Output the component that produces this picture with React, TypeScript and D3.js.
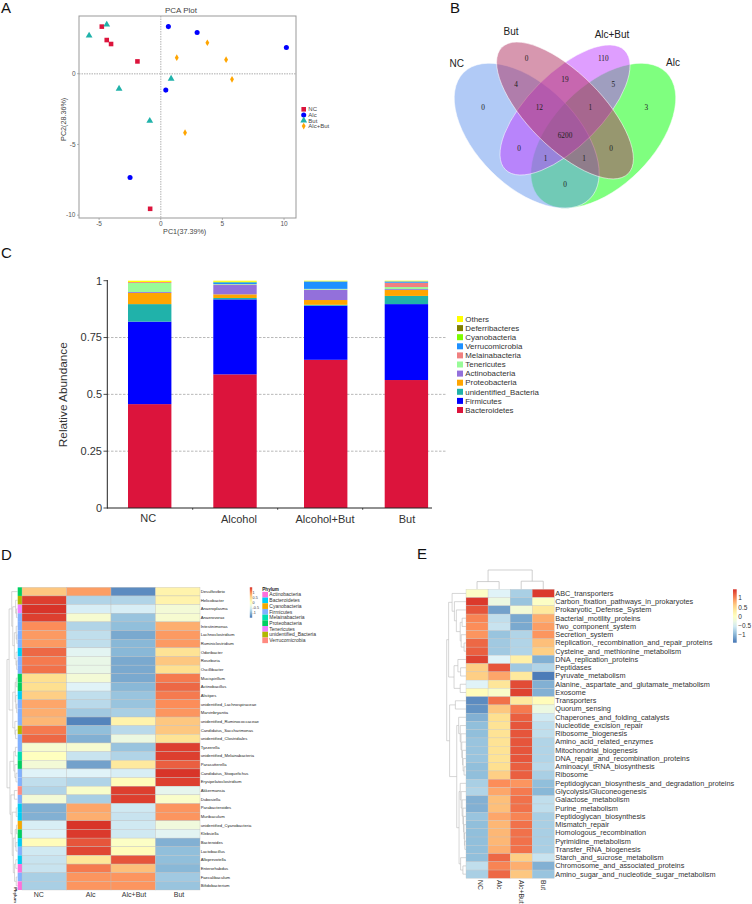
import React from "react";
import * as d3 from "d3";

const FONT = "'Liberation Sans', Arial, sans-serif";

// ---------- Panel A
const pcaGroups = ["NC", "Alc", "But", "Alc+But"];
const pcaNC = [[-4.78, 3.33], [-4.38, 2.38], [-4.03, 2.1], [-1.89, 0.87], [-0.86, -9.55]];
const pcaAlc = [[0.62, 3.33], [2.95, 2.92], [10.19, 1.86], [0.41, -1.16], [-2.49, -7.33]];
const pcaBut = [[-4.38, 3.47], [-5.81, 2.69], [0.84, -0.35], [-3.38, -1.06], [-0.89, -3.33]];
const pcaAlcBut = [[3.78, 2.19], [5.3, 0.99], [1.3, 1.13], [5.78, -0.4], [1.97, -4.17]];
const pcaSeries = [pcaNC, pcaAlc, pcaBut, pcaAlcBut];
const pcaColors = ["#dc143c", "#0000ff", "#20b2aa", "#ffa500"];
const pcaXTicks = [-5, 0, 5, 10];
const pcaYTicks = [0, -5, -10];

// ---------- Panel B
const vennSets = ["NC", "But", "Alc+But", "Alc"];
const vennCounts = [0, 0, 110, 3, 4, 19, 5, 12, 1, 6200, 0, 0, 1, 1, 0];

// ---------- Panel C
const barGroups = ["NC", "Alcohol", "Alcohol+But", "But"];
const phyla = ["Bacteroidetes", "Firmicutes", "unidentified_Bacteria", "Proteobacteria", "Actinobacteria", "Tenericutes", "Melainabacteria", "Verrucomicrobia", "Cyanobacteria", "Deferribacteres", "Others"];
const abundNC = [0.457, 0.363, 0.077, 0.049, 0.004, 0.04, 0.004, 0, 0, 0, 0.006];
const abundAlc = [0.588, 0.33, 0.006, 0.016, 0.041, 0.003, 0.001, 0.008, 0.002, 0, 0.005];
const abundAlcBut = [0.652, 0.238, 0.004, 0.021, 0.045, 0.003, 0.001, 0.033, 0, 0, 0.003];
const abundBut = [0.563, 0.334, 0.036, 0.026, 0.004, 0.009, 0.019, 0.006, 0, 0, 0.003];
const abundance = [abundNC, abundAlc, abundAlcBut, abundBut];
const phylaColors = ["#dc143c", "#0000ff", "#20b2aa", "#ffa500", "#9370db", "#98fb98", "#f08080", "#1e90ff", "#7cfc00", "#808000", "#ffff00"];
const barTicks = [0, 0.25, 0.5, 0.75, 1];

// ---------- Panel D
const genera = ["Desulfovibrio", "Helicobacter", "Anaeroplasma", "Anaerovorax", "Intestinimonas", "Lachnoclostridium", "Ruminiclostridium", "Odoribacter", "Roseburia", "Oscillibacter", "Mucispirillum", "Actinobacillus", "Alistipes", "unidentified_Lachnospiraceae", "Marvinbryantia", "unidentified_Ruminococcaceae", "Candidatus_Saccharimonas", "unidentified_Clostridiales", "Tyzzerella", "unidentified_Melainabacteria", "Parasutterella", "Candidatus_Stoquefichus", "Erysipelatoclostridium", "Akkermansia", "Dubosiella", "Parabacteroides", "Muribaculum", "unidentified_Cyanobacteria", "Klebsiella", "Bacteroides", "Lactobacillus", "Alloprevotella", "Enterorhabdus", "Faecalibaculum", "Bifidobacterium"];
const heatD = [
  [0.65, 0.9, -1.35, 0.2], [1.42, -0.8, -0.8, 0.2], [1.48, -0.55, -0.55, -0.2], [1.42, -0.15, -0.95, -0.15],
  [1.0, -0.8, -1.0, 0.8], [0.92, -0.7, -1.15, 0.92], [0.92, -0.7, -1.05, 0.92], [1.2, -0.45, -1.05, 0.45],
  [1.1, -0.35, -1.15, 0.65], [1.15, -0.35, -1.15, 0.5], [0.5, -0.2, -1.15, 1.1], [0.5, -0.5, -1.05, 1.2],
  [0.6, -0.7, -0.95, 1.1], [0.85, -0.75, -0.95, 1.0], [0.8, -0.9, -0.85, 0.95], [0.75, -1.4, 0.2, 0.65],
  [1.1, -1, -0.75, 0.65], [1.2, -1.1, -0.3, 0.45], [-0.15, -0.15, -0.95, 1.42], [0, -0.65, -0.8, 1.42],
  [-0.2, -1.2, 0.35, 1.25], [-0.5, -0.5, -0.55, 1.48], [-0.7, -0.8, 0.05, 1.42], [-0.8, -0.1, 1.42, -0.4],
  [-0.2, -0.85, 1.42, -0.1], [-1.1, 0.85, -0.6, 0.95], [-1.1, 0.8, -0.65, 0.95], [-0.55, 1.48, -0.6, -0.25],
  [-0.5, 1.45, -0.6, -0.45], [0.05, 1.3, -0.05, -1.1], [-0.6, 1.38, 0.05, -1], [-0.65, 0.4, 1.3, -1.0],
  [-0.65, 1.1, 0.7, -1.05], [-0.85, 0.95, 0.95, -0.9], [-0.85, 0.95, 0.95, -0.95],
];
const heatDCols = ["NC", "Alc", "Alc+But", "But"];
const annotNames = ["Actinobacteria", "Bacteroidetes", "Cyanobacteria", "Firmicutes", "Melainabacteria", "Proteobacteria", "Tenericutes", "unidentified_Bacteria", "Verrucomicrobia"];
const annotColors = ["#ff6fdc", "#00cdf5", "#f5a800", "#80b1ff", "#00dfb0", "#00d060", "#f080ff", "#b0b800", "#ff8a80"];
// index into annotNames per genus
const annotRows = [5, 7, 6, 3, 3, 3, 3, 1, 3, 3, 5, 5, 1, 3, 3, 3, 7, 3, 3, 4, 5, 3, 3, 8, 3, 1, 1, 2, 5, 1, 3, 1, 0, 3, 0];
type Tree = number | [number, Tree, Tree];
const treeD: Tree = [1,
  [0.8,
    [0.55, 0, [0.45,
      [0.18, 1, [0.1, 2, 3]],
      [0.3, [0.12, 4, [0.06, 5, 6]], [0.14, 7, [0.08, 8, 9]]]]],
    [0.45,
      [0.22, [0.12, 10, 11], [0.16, 12, [0.08, 13, 14]]],
      [0.25, 15, [0.18, 16, 17]]]],
  [0.72,
    [0.35, [0.2, 18, 19], [0.25, 20, [0.14, 21, 22]]],
    [0.62,
      [0.3, 23, 24],
      [0.5,
        [0.12, 25, 26],
        [0.4,
          [0.22, [0.1, 27, 28], [0.14, 29, 30]],
          [0.28, [0.16, 31, 32], [0.12, 33, 34]]]]]]];

// ---------- Panel E
const pathways = ["ABC_transporters", "Carbon_fixation_pathways_in_prokaryotes", "Prokaryotic_Defense_System", "Bacterial_motility_proteins", "Two_component_system", "Secretion_system", "Replication,_recombination_and_repair_proteins", "Cysteine_and_methionine_metabolism", "DNA_replication_proteins", "Peptidases", "Pyruvate_metabolism", "Alanine,_aspartate_and_glutamate_metabolism", "Exosome", "Transporters", "Quorum_sensing", "Chaperones_and_folding_catalysts", "Nucleotide_excision_repair", "Ribosome_biogenesis", "Amino_acid_related_enzymes", "Mitochondrial_biogenesis", "DNA_repair_and_recombination_proteins", "Aminoacyl_tRNA_biosynthesis", "Ribosome", "Peptidoglycan_biosynthesis_and_degradation_proteins", "Glycolysis/Gluconeogenesis", "Galactose_metabolism", "Purine_metabolism", "Peptidoglycan_biosynthesis", "Mismatch_repair", "Homologous_recombination", "Pyrimidine_metabolism", "Transfer_RNA_biogenesis", "Starch_and_sucrose_metabolism", "Chromosome_and_associated_proteins", "Amino_sugar_and_nucleotide_sugar_metabolism"];
const heatE = [
  [-0.05, -0.5, -0.85, 1.45], [1.45, -0.3, -0.95, -0.05], [1.3, -1.2, -0.2, 0.35], [1.05, -0.7, -1.15, 0.8],
  [1.0, -0.65, -1.15, 0.9], [0.95, -0.95, -0.8, 0.95], [1.2, -0.9, -0.8, 0.7], [1.25, -0.9, -0.8, 0.6],
  [1.4, -0.5, 0.25, -1.1], [0.6, 1.3, -0.9, -0.8], [0.6, 0.85, 0.35, -1.45], [-0.5, 0.4, 1.35, -1.1],
  [0.05, -0.1, 1.4, -1.1], [-1.35, 1.15, 0.35, 0.05], [-1.3, 0.65, 1.1, -0.3], [-1.1, 0.5, 1.25, -0.6],
  [-1, 0.45, 1.3, -0.7], [-1, 0.45, 1.3, -0.7], [-0.95, 0.45, 1.3, -0.8], [-0.95, 0.45, 1.3, -0.8],
  [-0.95, 0.45, 1.3, -0.8], [-1, 0.5, 1.25, -0.75], [-1, 0.6, 1.25, -0.85], [-0.85, 1, 0.95, -1],
  [-0.8, 0.85, 1.1, -1.05], [-1.1, 0.7, 1.15, -0.7], [-1.1, 0.7, 1.15, -0.7], [-0.95, 0.85, 1.05, -0.85],
  [-1, 0.75, 1.15, -0.85], [-1, 0.75, 1.15, -0.85], [-1, 0.75, 1.15, -0.85], [-1, 0.8, 1.15, -0.85],
  [-1, 1.2, 0.6, -0.65], [-0.7, 1.05, 0.8, -1.1], [-0.85, 1.2, 0.65, -0.95],
];
const heatECols = ["NC", "Alc", "Alc+But", "But"];
const treeE: Tree = [1,
  [0.9,
    [0.72, 0, [0.6, 1, [0.5, 2, [0.3, [0.2, 3, 4], [0.25, 5, [0.1, 6, 7]]]]]],
    [0.62, [0.42, 8, [0.28, 9, 10]], [0.3, 11, 12]]],
  [0.85,
    [0.55, 13, 14],
    [0.48,
      [0.38, 15, [0.3, 16, [0.26, 17, [0.22, 18, [0.18, 19, [0.15, 20, [0.1, 21, 22]]]]]]],
      [0.36,
        [0.3, 23, [0.25, 24, [0.2, 25, [0.16, 26, [0.13, 27, [0.1, 28, [0.08, 29, [0.06, 30, 31]]]]]]]],
        [0.28, 32, [0.16, 33, 34]]]]]];
const treeETop: Tree = [1, [0.4, 0, 1], [0.42, 2, 3]];

// ---------- helpers
const heatColor = d3.scaleLinear<string>()
  .domain([-1.5, -1, -0.5, 0, 0.5, 1, 1.5])
  .range(["#4575b4", "#91bfdb", "#e0f3f8", "#ffffbf", "#fee090", "#fc8d59", "#d73027"]);

function dendroPath(tree: Tree, pos: (leaf: number) => number, h: (v: number) => number, horizontal: boolean) {
  let d = "";
  const seg = (a1: number, b1: number, a2: number, b2: number) => {
    d += horizontal ? `M${b1},${a1}L${b2},${a2}` : `M${a1},${b1}L${a2},${b2}`;
  };
  const walk = (t: Tree): { p: number; v: number } => {
    if (typeof t === "number") return { p: pos(t), v: 0 };
    const [v, l, r] = t;
    const a = walk(l);
    const b = walk(r);
    seg(a.p, h(v), b.p, h(v));
    seg(a.p, h(v), a.p, h(a.v));
    seg(b.p, h(v), b.p, h(b.v));
    return { p: (a.p + b.p) / 2, v };
  };
  walk(tree);
  return d;
}

function ColorBar({ id, x, y, w, h }: { id: string; x: number; y: number; w: number; h: number }) {
  const stops = d3.range(0, 1.0001, 0.1);
  return (
    <g>
      <defs>
        <linearGradient id={id} x1="0" x2="0" y1="0" y2="1">
          {stops.map((s) => <stop key={s} offset={s} stopColor={heatColor(1.5 - 3 * s)} />)}
        </linearGradient>
      </defs>
      <rect x={x} y={y} width={w} height={h} fill={`url(#${id})`} />
    </g>
  );
}

function PanelA() {
  const x = d3.scaleLinear().domain([-6.63, 10.97]).range([79, 296]);
  const y = d3.scaleLinear().domain([4.08, -10.2]).range([16, 218]);
  const syms = [d3.symbolSquare, d3.symbolCircle, d3.symbolTriangle, d3.symbolDiamond];
  const sizes = [21, 20, 20, 13];
  const sym = (i: number) => d3.symbol().type(syms[i]).size(sizes[i])() as string;
  const legendY = d3.scaleLinear().domain([0, 1]).range([109.3, 114.9]);
  return (
    <g fontFamily={FONT}>
      <text x={181} y={12.5} textAnchor="middle" fontSize={8} fill="#444">PCA Plot</text>
      <line x1={x(0)} x2={x(0)} y1={16} y2={218} stroke="#c8c8c8" strokeWidth={1.4} strokeDasharray="1.5 1" />
      <line x1={79} x2={296} y1={y(0)} y2={y(0)} stroke="#c8c8c8" strokeWidth={1.4} strokeDasharray="1.5 1" />
      <rect x={79} y={16} width={217} height={202} fill="none" stroke="#999" strokeWidth={1} />
      {pcaXTicks.map((t) => (
        <g key={t}>
          <line x1={x(t)} x2={x(t)} y1={218} y2={220} stroke="#888" strokeWidth={0.6} />
          <text x={x(t)} y={226} textAnchor="middle" fontSize={6.5} fill="#555">{t}</text>
        </g>
      ))}
      {pcaYTicks.map((t) => (
        <g key={t}>
          <line x1={77} x2={79} y1={y(t)} y2={y(t)} stroke="#888" strokeWidth={0.6} />
          <text x={75.5} y={y(t) + 2.3} textAnchor="end" fontSize={6.5} fill="#555">{t}</text>
        </g>
      ))}
      <text x={184.7} y={233.5} textAnchor="middle" fontSize={7.2} fill="#444">PC1(37.39%)</text>
      <text transform="translate(66,119.3) rotate(-90)" textAnchor="middle" fontSize={7.2} fill="#444">PC2(28.36%)</text>
      {pcaSeries.map((s, i) => s.map((p, j) => (
        <path key={`${i}-${j}`} transform={`translate(${x(p[0])},${y(p[1])})`} d={sym(i)} fill={pcaColors[i]} />
      )))}
      {pcaGroups.map((g, i) => (
        <g key={g}>
          <path transform={`translate(303.7,${legendY(i)})`} d={sym(i)} fill={pcaColors[i]} />
          <text x={308.3} y={legendY(i) + 2} fontSize={6} fill="#444">{g}</text>
        </g>
      ))}
    </g>
  );
}

function PanelB() {
  // paint order: Alc, NC, Alc+But, But
  const ell = [
    { cx: 603.3, cy: 135.7, a: 89.3, b: 50.3, r: -45, c: "#00ff00" },
    { cx: 526.7, cy: 135.7, a: 89.3, b: 50.3, r: 45, c: "#6495ed" },
    { cx: 565, cy: 110, a: 84.3, b: 36.7, r: -45, c: "#bf3eff" },
    { cx: 565, cy: 110.5, a: 89.3, b: 37.3, r: 45, c: "#b03060" },
  ];
  const labelAt = [
    [483, 107.3], [526.7, 59], [603.3, 59], [646.3, 107.3],
    [516, 84.3], [565, 79.3], [613.3, 84.3],
    [539.3, 107.7], [590.3, 107.7], [565, 135.7],
    [519, 148.3], [611, 148.3], [545.7, 159], [584, 159], [565, 184.3],
  ];
  const names = [[456.7, 67], [511, 35], [612, 38], [673, 66]];
  return (
    <g>
      {ell.map((e, i) => (
        <ellipse key={i} cx={e.cx} cy={e.cy} rx={e.a} ry={e.b} transform={`rotate(${e.r} ${e.cx} ${e.cy})`} fill={e.c} fillOpacity={0.5} stroke="#fff" strokeOpacity={0.75} strokeWidth={0.7} />
      ))}
      {vennCounts.map((c, i) => (
        <text key={i} x={labelAt[i][0]} y={labelAt[i][1] + 2.4} textAnchor="middle" fontSize={7.3} fontFamily="'Liberation Serif', serif" fill="#222">{c}</text>
      ))}
      {vennSets.map((s, i) => (
        <text key={s} x={names[i][0]} y={names[i][1]} textAnchor="middle" fontSize={10} fontFamily={FONT} fill="#222">{s}</text>
      ))}
    </g>
  );
}

function PanelC() {
  const y = d3.scaleLinear().domain([0, 1]).range([508, 280.7]);
  const barX = [128, 213.3, 304, 384.7];
  const barW = 43.4;
  const labelX = [148.3, 239, 325, 407];
  const labelY = [521.5, 523, 523, 523];
  const stack = d3.stack<number[]>().keys(phyla.map((_, i) => String(i))).value((d, k) => d[+k])(abundance);
  const legY = d3.scaleLinear().domain([0, 10]).range([410, 319]);
  return (
    <g fontFamily={FONT}>
      {[0.25, 0.5, 0.75].map((t) => (
        <line key={t} x1={107} x2={447} y1={y(t)} y2={y(t)} stroke="#888" strokeWidth={0.6} strokeDasharray="2.5 1.5" />
      ))}
      {stack.map((s, k) => s.map((d, i) => (
        <rect key={`${k}-${i}`} x={barX[i]} width={barW} y={y(d[1])} height={Math.max(0, y(d[0]) - y(d[1]))} fill={phylaColors[k]} />
      )))}
      <line x1={107.3} x2={107.3} y1={280} y2={508.5} stroke="#222" strokeWidth={1} />
      <line x1={107} x2={432} y1={508} y2={508} stroke="#222" strokeWidth={1} />
      {barTicks.map((t) => (
        <g key={t}>
          <line x1={103.5} x2={107.3} y1={y(t)} y2={y(t)} stroke="#222" strokeWidth={0.8} />
          <text x={102} y={y(t) + 3.8} textAnchor="end" fontSize={11} fill="#333">{t}</text>
        </g>
      ))}
      {[192.7, 277.7, 362.7].map((t) => (
        <line key={t} x1={t} x2={t} y1={508} y2={509.8} stroke="#222" strokeWidth={0.8} />
      ))}
      {barGroups.map((g, i) => (
        <text key={g} x={labelX[i]} y={labelY[i]} textAnchor="middle" fontSize={11} fill="#333">{g}</text>
      ))}
      <text transform="translate(67,394.7) rotate(-90)" textAnchor="middle" fontSize={11.8} fill="#333">Relative Abundance</text>
      {phyla.map((p, i) => (
        <g key={p}>
          <rect x={457} y={legY(i) - 3} width={6} height={6} fill={phylaColors[i]} />
          <text x={465.3} y={legY(i) + 2.7} fontSize={7.9} fill="#333">{p}</text>
        </g>
      ))}
    </g>
  );
}

function PanelD() {
  const x = d3.scaleBand<string>().domain(heatDCols).range([22, 200]);
  const y = d3.scaleBand<string>().domain(genera).range([587.3, 890]);
  const rowPos = (i: number) => (y(genera[i]) as number) + y.bandwidth() / 2;
  const h = d3.scaleLinear().domain([0, 1]).range([17.5, 7]);
  const labelsX = [38.7, 90.7, 134, 179];
  const legY = d3.scaleLinear().domain([0, 8]).range([594.7, 640.3]);
  const barY = d3.scaleLinear().domain([1, -1]).range([592.7, 612.3]);
  return (
    <g fontFamily={FONT}>
      <path d={dendroPath(treeD, rowPos, h, true)} stroke="#bbb" strokeWidth={0.6} fill="none" />
      {annotRows.map((a, i) => (
        <rect key={i} x={17.7} width={4.3} y={y(genera[i])} height={y.bandwidth()} fill={annotColors[a]} />
      ))}
      {heatD.map((row, i) => row.map((v, j) => (
        <rect key={`${i}-${j}`} x={x(heatDCols[j])} y={y(genera[i])} width={x.bandwidth()} height={y.bandwidth()} fill={heatColor(v)} stroke="#bdbdbd" strokeWidth={0.35} />
      )))}
      {genera.map((g, i) => (
        <text key={g} x={200.7} y={rowPos(i) + 1.5} fontSize={4.2} fill="#222">{g}</text>
      ))}
      {heatDCols.map((c, i) => (
        <text key={c} x={labelsX[i]} y={897} textAnchor="middle" fontSize={7} fill="#333">{c}</text>
      ))}
      <text transform="translate(13.5,895) rotate(90)" textAnchor="middle" fontSize={4.3} fontWeight="bold" fill="#222">Phylum</text>
      <ColorBar id="cbD" x={249.8} y={587.3} w={2.4} h={30.4} />
      {[1, 0.5, 0, -0.5, -1].map((t) => (
        <text key={t} x={252.6} y={barY(t) + 1.3} fontSize={3.7} fill="#333">{t}</text>
      ))}
      <text x={262.3} y={590.5} fontSize={4.6} fontWeight="bold" fill="#222">Phylum</text>
      {annotNames.map((n, i) => (
        <g key={n}>
          <rect x={262.3} y={legY(i) - 2.85} width={5.7} height={5.7} fill={annotColors[i]} />
          <text x={269.3} y={legY(i) + 1.7} fontSize={5} fill="#333">{n}</text>
        </g>
      ))}
    </g>
  );
}

function PanelE() {
  const x = d3.scaleBand<string>().domain(heatECols).range([466, 554.3]);
  const y = d3.scaleBand<string>().domain(pathways).range([589.3, 878.3]);
  const rowPos = (i: number) => (y(pathways[i]) as number) + y.bandwidth() / 2;
  const colPos = (i: number) => (x(heatECols[i]) as number) + x.bandwidth() / 2;
  const h = d3.scaleLinear().domain([0, 1]).range([466, 446.7]);
  const hTop = d3.scaleLinear().domain([0, 1]).range([589.3, 570]);
  const barY = d3.scaleLinear().domain([1, -1]).range([598, 635]);
  return (
    <g fontFamily={FONT}>
      <path d={dendroPath(treeE, rowPos, h, true)} stroke="#bbb" strokeWidth={0.6} fill="none" />
      <path d={dendroPath(treeETop, colPos, hTop, false)} stroke="#bbb" strokeWidth={0.7} fill="none" />
      {heatE.map((row, i) => row.map((v, j) => (
        <rect key={`${i}-${j}`} x={x(heatECols[j])} y={y(pathways[i])} width={x.bandwidth()} height={y.bandwidth()} fill={heatColor(v)} stroke="#c4c4c4" strokeWidth={0.3} />
      )))}
      {pathways.map((p, i) => (
        <text key={p} x={555.3} y={rowPos(i) + 2.4} fontSize={7.3} fill="#333">{p}</text>
      ))}
      {heatECols.map((c, i) => (
        <text key={c} transform={`translate(${colPos(i) - 2.3 + (i === 0 ? 3 : 0)},880) rotate(90)`} fontSize={6.8} fill="#333">{c}</text>
      ))}
      <ColorBar id="cbE" x={733} y={589.3} w={3.7} h={53.4} />
      {[1, 0.5, 0, -0.5, -1].map((t) => (
        <text key={t} x={738.3} y={barY(t) + 2.3} fontSize={6.5} fill="#333">{t < 0 ? `\u2212${-t}` : t}</text>
      ))}
    </g>
  );
}

const panelLetters = [["A", 1, 13], ["B", 450, 13], ["C", 1, 257.5], ["D", 1, 560], ["E", 417, 559]] as const;

export default function App() {
  return (
    <svg width={752} height={904} viewBox="0 0 752 904" style={{ position: "absolute", left: 0, top: 0, background: "#fff" }}>
      {panelLetters.map(([l, x, y]) => (
        <text key={l} x={x} y={y} fontSize={15} fontFamily={FONT} fill="#111">{l}</text>
      ))}
      <PanelA />
      <PanelB />
      <PanelC />
      <PanelD />
      <PanelE />
    </svg>
  );
}
